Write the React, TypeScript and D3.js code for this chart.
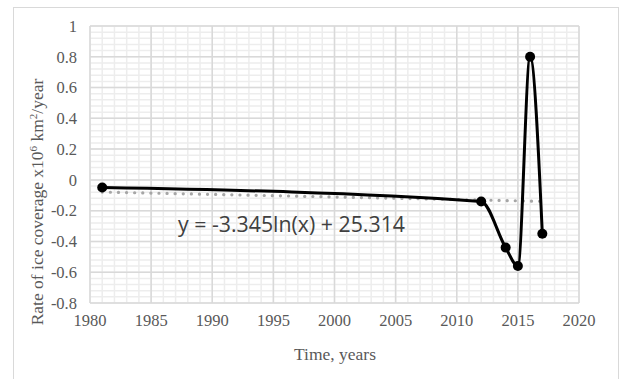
import React from 'react';
import * as d3 from 'd3';

// observed rate of ice coverage (x10^6 km2/year)
const years = [1981, 2012, 2014, 2015, 2016, 2017];
const rates = [-0.05, -0.14, -0.44, -0.56, 0.8, -0.35];
const xTicks = [1980, 1985, 1990, 1995, 2000, 2005, 2010, 2015, 2020];
const yTicks = [-0.8, -0.6, -0.4, -0.2, 0, 0.2, 0.4, 0.6, 0.8, 1];
// trendline coefficients as printed on the chart
const trendA = -3.345;
const trendB = 25.314;

const W = 620;
const H = 379;

export default function App() {
  const x = d3.scaleLinear().domain([1980, 2020]).range([90, 579]);
  const y = d3.scaleLinear().domain([-0.8, 1]).range([303, 26]);

  const minorX = d3.range(1980, 2021, 1);
  const minorY = d3.range(-0.8, 1.0001, 0.04);

  const pts: [number, number][] = years.map((yr, i) => [yr, rates[i]]);
  const line = d3.line<[number, number]>()
    .x(d => x(d[0]))
    .y(d => y(d[1]))
    .curve(d3.curveMonotoneX);

  const trendPts: [number, number][] = d3.range(years[0], years[years.length - 1] + 0.001, 0.5)
    .map(v => [v, trendA * Math.log(v) + trendB]);
  const trendLine = d3.line<[number, number]>()
    .x(d => x(d[0]))
    .y(d => y(d[1]));

  const fmt = (v: number) => (Math.abs(v) < 1e-9 ? '0' : String(+v.toFixed(1)));

  return (
    <svg width={W} height={H} style={{ position: 'absolute', left: 0, top: 0, background: '#fff' }}>
      <rect x={13.5} y={7.5} width={605} height={380} fill="#fff" stroke="#d9d9d9" />
      <g>
        {minorX.map(v => (
          <line key={'mx' + v} x1={x(v)} x2={x(v)} y1={y(-0.8)} y2={y(1)} stroke="#ededed" strokeWidth={1.5} />
        ))}
        {minorY.map((v, i) => (
          <line key={'my' + i} x1={x(1980)} x2={x(2020)} y1={y(v)} y2={y(v)} stroke="#ededed" strokeWidth={1.5} />
        ))}
        {xTicks.map(v => (
          <line key={'gx' + v} x1={x(v)} x2={x(v)} y1={y(-0.8)} y2={y(1)} stroke="#d9d9d9" strokeWidth={1.5} />
        ))}
        {yTicks.map(v => (
          <line key={'gy' + v} x1={x(1980)} x2={x(2020)} y1={y(v)} y2={y(v)} stroke="#d9d9d9" strokeWidth={1.5} />
        ))}
      </g>
      <g fontFamily="'Liberation Serif', 'Times New Roman', serif" fontSize={16.5} fill="#595959">
        {xTicks.map(v => (
          <text key={'tx' + v} x={x(v)} y={326} textAnchor="middle">{v}</text>
        ))}
        {yTicks.map(v => (
          <text key={'ty' + v} x={77} y={y(v)} dy="0.35em" textAnchor="end">{fmt(v)}</text>
        ))}
        <text x={335} y={360} textAnchor="middle" fontSize={17.5}>Time, years</text>
        <text transform={`translate(43,${202}) rotate(-90)`} textAnchor="middle" fontSize={17.5}>
          Rate of ice coverage x10<tspan dy={-6} fontSize={11}>6</tspan>
          <tspan dy={6}> km</tspan><tspan dy={-6} fontSize={11}>2</tspan><tspan dy={6}>/year</tspan>
        </text>
      </g>
      <path d={trendLine(trendPts) || ''} fill="none" stroke="#a6a6a6" strokeWidth={3.2}
        strokeDasharray="0.1 8" strokeLinecap="round" />
      <path d={line(pts) || ''} fill="none" stroke="#000" strokeWidth={3} />
      {pts.map((p, i) => (
        <circle key={'p' + i} cx={x(p[0])} cy={y(p[1])} r={5} fill="#000" />
      ))}
      <text x={178} y={232} fontFamily="'Open Sans', 'Noto Sans', sans-serif" fontSize={21}
        fill="#404040" textLength={227} lengthAdjust="spacingAndGlyphs">
        y = -3.345ln(x) + 25.314
      </text>
    </svg>
  );
}
